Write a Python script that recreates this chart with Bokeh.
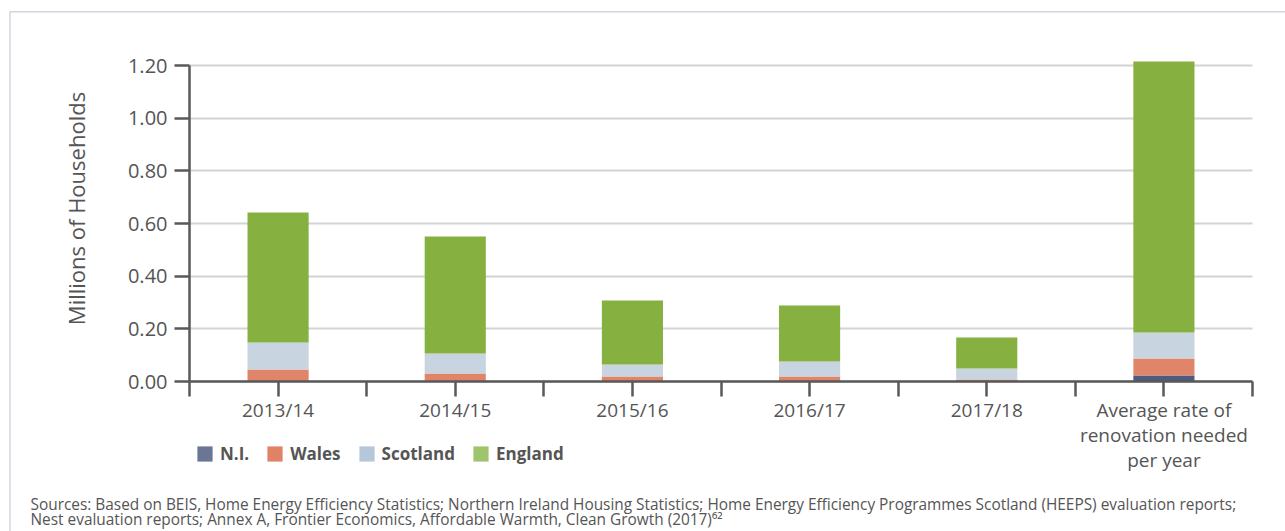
import math
from bokeh.plotting import figure
from bokeh.models import (ColumnDataSource, FixedTicker, NumeralTickFormatter, Legend,
                          LegendItem, Label, BoxAnnotation, Range1d)
from bokeh.embed import file_html
from bokeh.resources import INLINE

categories = ["2013/14", "2014/15", "2015/16", "2016/17", "2017/18",
              "Average rate of\nrenovation needed\nper year"]
ni = [0.0, 0.0, 0.0, 0.0, 0.0, 0.023]
wales = [0.046, 0.030, 0.019, 0.019, 0.008, 0.064]
scotland = [0.102, 0.076, 0.046, 0.057, 0.041, 0.099]
england = [0.494, 0.445, 0.243, 0.213, 0.118, 1.029]
series = ["N.I.", "Wales", "Scotland", "England"]
y_ticks = [0.0, 0.2, 0.4, 0.6, 0.8, 1.0, 1.2]

bar_colors = ["#4e5b7e", "#e0846a", "#c8d4df", "#86b03f"]
legend_colors = ["#6b7595", "#e08266", "#b6c7d9", "#a0c46b"]
FONT = "Open Sans"
TXT = "#555555"
AX = "#595959"

W, H = 1285, 531
# frame covers the whole canvas; plot area: x 189..1252, y 55..381 (y=0 at 381)
n = len(categories)
px_x = (1252 - 189) / n
px_y = (381 - 65) / 1.2
x_range = Range1d(-189 / px_x, n + (W - 1252) / px_x)
y_range = Range1d(-(H - 381) / px_y, 381 / px_y)

xs = [i + 0.5 for i in range(n)]
src = ColumnDataSource(dict(x=xs, ni=ni, wales=wales, scotland=scotland, england=england,
                            label=categories, base=[0.0] * n))

p = figure(width=W, height=H, output_backend="svg", toolbar_location=None,
           x_range=x_range, y_range=y_range,
           min_border_left=0, min_border_right=0, min_border_top=0, min_border_bottom=0)
p.outline_line_color = None
p.background_fill_color = "white"
p.border_fill_color = "white"

p.vbar_stack(["ni", "wales", "scotland", "england"], x="x", width=0.345,
             color=bar_colors, line_color=None, source=src)

# category labels under the axis
p.text(x="x", y="base", text="label", source=src, text_align="center", text_baseline="top",
       y_offset=15, text_font={"value": FONT}, text_font_size={"value": "19px"},
       text_color=TXT, text_line_height=0.97)

# legend proxies (kept off-canvas; only their legend swatches show)
items = []
for name, c in zip(series, legend_colors):
    r = p.vbar(x=[-100], top=[0.0], width=0.1, fill_color=c, line_color=None)
    items.append(LegendItem(label=name, renderers=[r]))
leg = Legend(items=items, orientation="horizontal", location=(195, 66),
             glyph_width=19, glyph_height=19, label_standoff=6, spacing=16,
             padding=0, margin=0, border_line_color=None, background_fill_alpha=0,
             label_text_font=FONT, label_text_font_size="17px", label_text_font_style="bold",
             label_text_color=TXT)
p.add_layout(leg)

# x axis
ticks = sorted([float(i) for i in range(n + 1)] + xs)
p.xaxis.fixed_location = 0
p.xaxis.bounds = (0, n)
p.xaxis.ticker = FixedTicker(ticks=ticks)
p.xaxis.major_label_overrides = {t: "" for t in ticks}
p.xaxis.major_label_text_font_size = "0px"
p.xaxis.minor_tick_line_color = None
p.xaxis.major_tick_in = 0
p.xaxis.major_tick_out = 15
p.xaxis.major_tick_line_width = 2.5
p.xaxis.major_tick_line_color = AX
p.xaxis.axis_line_width = 2.5
p.xaxis.axis_line_color = AX

# y axis
p.yaxis.fixed_location = 0
p.yaxis.ticker = FixedTicker(ticks=y_ticks)
p.yaxis.formatter = NumeralTickFormatter(format="0.00")
p.yaxis.bounds = (0, 1.2)
p.yaxis.minor_tick_line_color = None
p.yaxis.major_tick_in = 0
p.yaxis.major_tick_out = 15
p.yaxis.major_tick_line_width = 2.5
p.yaxis.major_tick_line_color = AX
p.yaxis.axis_line_width = 2.5
p.yaxis.axis_line_color = AX
p.yaxis.major_label_standoff = 7
p.yaxis.major_label_text_font = FONT
p.yaxis.major_label_text_font_size = "20px"
p.yaxis.major_label_text_color = TXT

p.xgrid.grid_line_color = None
p.ygrid.grid_line_color = "#d3d3d3"
p.ygrid.grid_line_width = 2
p.ygrid.cross_bounds = (0, n)

# y axis title
p.add_layout(Label(x=75, y=H - 208, x_units="screen", y_units="screen",
                   text="Millions of Households", angle=math.pi / 2,
                   text_font=FONT, text_font_size="22px", text_color=TXT,
                   text_align="center", text_baseline="middle"))

# footer
foot1 = ("Sources: Based on BEIS, Home Energy Efficiency Statistics; Northern Ireland Housing Statistics; "
         "Home Energy Efficiency Programmes Scotland (HEEPS) evaluation reports;")
foot2 = "Nest evaluation reports; Annex A, Frontier Economics, Affordable Warmth, Clean Growth (2017)\u2076\u00b2"
for t, yy in [(foot1, H - 504), (foot2, H - 519)]:
    p.add_layout(Label(x=30, y=yy, x_units="screen", y_units="screen", text=t,
                       text_font=FONT, text_font_size="15.4px", text_color=TXT,
                       text_baseline="middle", text_align="left"))

# outer frame line
p.add_layout(BoxAnnotation(left=9.5, right=W + 20, top=H - 11.3, bottom=-20,
                           left_units="screen", right_units="screen",
                           top_units="screen", bottom_units="screen",
                           fill_alpha=0, line_color="#6b7595", line_width=1.5))

open("out.html", "w").write(file_html(p, INLINE))
